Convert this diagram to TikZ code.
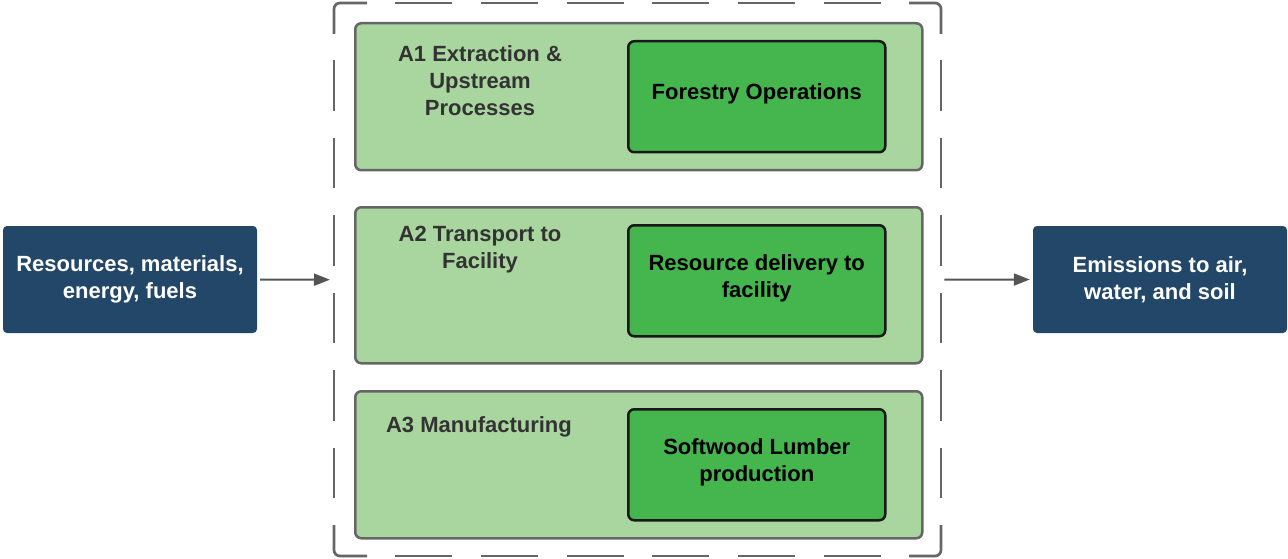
\documentclass[tikz,border=0pt]{standalone}
\usepackage{fontspec}
\setmainfont{Liberation Sans}
\usetikzlibrary{arrows.meta}
\definecolor{navy}{HTML}{224768}
\definecolor{lightgr}{HTML}{A9D69F}
\definecolor{darkgr}{HTML}{45B54D}
\definecolor{bordergr}{HTML}{666666}
\definecolor{labelgr}{HTML}{333333}
\definecolor{arrowgr}{HTML}{555555}
\begin{document}
\begin{tikzpicture}[x=1pt,y=-1pt,
  txt/.style={font=\bfseries\fontsize{22}{27}\selectfont, align=center},
  bluebox/.style={txt, fill=navy, text=white, rounded corners=4pt, minimum width=254pt, minimum height=107pt, inner sep=0pt},
  panel/.style={draw=bordergr, line width=2.5pt, fill=lightgr, rounded corners=6pt, minimum width=567pt, inner sep=0pt, anchor=north west},
  stage/.style={draw=black!90, line width=2.5pt, fill=darkgr, rounded corners=6pt, minimum width=257pt, minimum height=111pt, inner sep=0pt, anchor=north west},
  stagetext/.style={txt, text=black, yshift=2.5pt},
  plabel/.style={txt, text=labelgr},
  bline/.style={draw=bordergr, line width=2.7pt},
  arr/.style={draw=arrowgr, line width=2pt, -{Triangle[length=16pt,width=12pt]}}]
\useasboundingbox (0,0) rectangle (1288,559);

% boundary (invisible node used as anchor)
\node[draw=none, minimum width=607pt, minimum height=553pt, inner sep=0pt, anchor=north west] (bnd) at (334,3) {};
% corner pieces
\draw[bline, rounded corners=6pt] (334,34) -- (334,3) -- (367,3);
\draw[bline, rounded corners=6pt] (909,3) -- (941,3) -- (941,34);
\draw[bline, rounded corners=6pt] (334,525) -- (334,556) -- (367,556);
\draw[bline, rounded corners=6pt] (909,556) -- (941,556) -- (941,525);
% dashed sides
\draw[bline, dash pattern=on 57pt off 28.8pt] (395,3) -- (881,3);
\draw[bline, dash pattern=on 57pt off 28.8pt] (395,556) -- (881,556);
\draw[bline, dash pattern=on 50.5pt off 26.9pt] (334,60.5) -- (334,498);
\draw[bline, dash pattern=on 50.5pt off 26.9pt] (941,60.5) -- (941,498);

% panels
\node[panel, minimum height=147pt] (p1) at (354,22) {};
\node[panel, minimum height=156pt] (p2) at (354,206) {};
\node[panel, minimum height=147pt] (p3) at (354,390) {};

% panel labels
\node[plabel] (l1) at (480,81) {A1 Extraction \&\\Upstream\\Processes};
\node[plabel] (l2) at (480,249.5) {A2 Transport to\\Facility};
\node[plabel] (l3) at (479,427) {A3 Manufacturing};

% stages
\node[stage, label={[stagetext]center:{Forestry Operations}}] (s1) at (627,40) {};
\node[stage, label={[stagetext]center:{Resource delivery to\\facility}}] (s2) at (627,224) {};
\node[stage, label={[stagetext]center:{Softwood Lumber\\production}}] (s3) at (627,408) {};

% input / output
\node[bluebox] (src) at (130,279.5) {Resources, materials,\\energy, fuels};
\node[bluebox] (dst) at (1160,279.5) {Emissions to air,\\water, and soil};

% arrows
\draw[arr] ([xshift=3pt]src.east) -- ([xshift=-4pt]bnd.west);
\draw[arr] ([xshift=3pt]bnd.east) -- ([xshift=-3pt]dst.west);
\end{tikzpicture}
\end{document}
